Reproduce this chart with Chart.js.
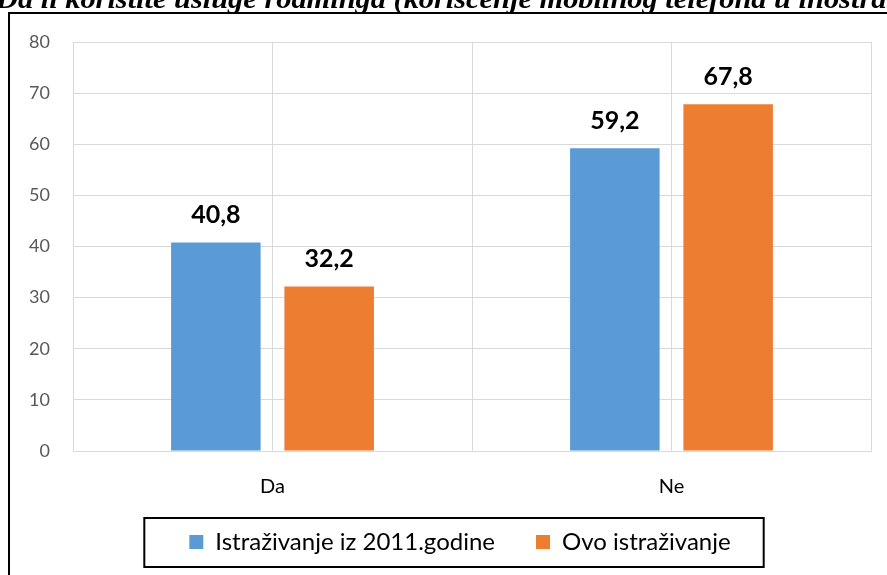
<!DOCTYPE html>
<html>
<head>
<meta charset="utf-8">
<script src="https://cdn.jsdelivr.net/npm/chart.js@4"></script>
<style>
  html, body { margin: 0; padding: 0; background: #fff; overflow: hidden; }
  #wrap { position: relative; width: 887px; height: 575px; overflow: hidden; }
  #title { position: absolute; left: -4px; top: -16px; white-space: nowrap;
           font: bold italic 28px 'Liberation Serif', 'Times New Roman', serif; line-height: 30px; color: #000;
           transform: scaleX(1.085); transform-origin: 0 0; }
  canvas { position: absolute; left: 0; top: 0; }
</style>
</head>
<body>
<div id="wrap">
  <canvas id="c" width="887" height="575"></canvas>
  <div id="title">Da li koristite usluge roaminga (korišćenje mobilnog telefona u inostranstvu)?</div>
</div>
<script>
const categories = ['Da', 'Ne'];
const seriesNames = ['Istraživanje iz 2011.godine', 'Ovo istraživanje'];
const values2011 = [40.8, 59.2];
const valuesNow = [32.2, 67.8];
const yTicks = [0, 10, 20, 30, 40, 50, 60, 70, 80];

const BLUE = '#5B9BD5';
const ORANGE = '#ED7D31';
const GRID = '#D9D9D9';
const FONT = "Lato, Carlito, 'Open Sans', sans-serif";

const noLabelClip = {
  id: 'noLabelClip',
  beforeDraw(chart) {
    Object.values(chart.scales).forEach(s => { s._computeLabelArea = () => undefined; });
  }
};

const framePlugin = {
  id: 'frame',
  beforeDraw(chart) {
    const ctx = chart.ctx;
    ctx.save();
    ctx.strokeStyle = '#000';
    ctx.lineWidth = 2;
    ctx.beginPath();
    ctx.moveTo(9, 600);
    ctx.lineTo(9, 13);
    ctx.lineTo(900, 13);
    ctx.stroke();
    ctx.restore();
  }
};

const dataLabelPlugin = {
  id: 'dataLabels',
  afterDatasetsDraw(chart) {
    const ctx = chart.ctx;
    ctx.save();
    ctx.font = 'bold 25px ' + FONT;
    ctx.fillStyle = '#000';
    ctx.textAlign = 'center';
    ctx.textBaseline = 'middle';
    chart.data.datasets.forEach((ds, di) => {
      const meta = chart.getDatasetMeta(di);
      meta.data.forEach((bar, i) => {
        const txt = ds.data[i].toFixed(1).replace('.', ',');
        ctx.fillText(txt, bar.x, bar.y - 27);
      });
    });
    ctx.restore();
  }
};

const legendBoxPlugin = {
  id: 'legendBox',
  afterDraw(chart) {
    const hb = chart.legend && chart.legend.legendHitBoxes;
    if (!hb || !hb.length) return;
    const first = hb[0], last = hb[hb.length - 1];
    const cy = first.top + first.height / 2;
    const ctx = chart.ctx;
    ctx.save();
    ctx.strokeStyle = '#000';
    ctx.lineWidth = 2;
    const l = first.left - 45, r = last.left + last.width + 33;
    ctx.strokeRect(l, cy - 24, r - l, 49);
    ctx.restore();
  }
};

new Chart(document.getElementById('c'), {
  type: 'bar',
  data: {
    labels: categories,
    datasets: [
      { label: seriesNames[0], data: values2011, backgroundColor: BLUE,
        categoryPercentage: 0.568, barPercentage: 0.79 },
      { label: seriesNames[1], data: valuesNow, backgroundColor: ORANGE,
        categoryPercentage: 0.568, barPercentage: 0.79 }
    ]
  },
  options: {
    responsive: false,
    animation: false,
    layout: { padding: { left: 49, right: 16, top: 42, bottom: 11 } },
    scales: {
      x: {
        offset: true,
        grid: { offset: true, color: GRID, drawTicks: false, lineWidth: 1 },
        border: { color: GRID },
        ticks: { color: '#000', font: { family: FONT, size: 20 }, padding: 24 },
        afterFit(s) { s.height = 38; }
      },
      x2: {
        type: 'category',
        labels: categories,
        position: 'bottom',
        offset: true,
        grid: { offset: false, color: GRID, drawTicks: false, lineWidth: 1 },
        border: { display: false },
        ticks: { display: false },
        afterFit(s) { s.height = 0; }
      },
      y: {
        min: 0, max: 80,
        afterBuildTicks(s) { s.ticks = yTicks.map(v => ({ value: v })); },
        grid: { color: GRID, drawTicks: false, lineWidth: 1 },
        border: { display: false },
        ticks: { color: '#595959', font: { family: FONT, size: 18 }, padding: 23 },
        afterFit(s) { s.width = 24; }
      }
    },
    plugins: {
      legend: {
        position: 'bottom',
        labels: {
          color: '#000',
          font: { family: FONT, size: 24 },
          boxWidth: 14, boxHeight: 14,
          padding: 41
        }
      },
      tooltip: { enabled: false }
    }
  },
  plugins: [noLabelClip, framePlugin, dataLabelPlugin, legendBoxPlugin]
});
</script>
</body>
</html>
